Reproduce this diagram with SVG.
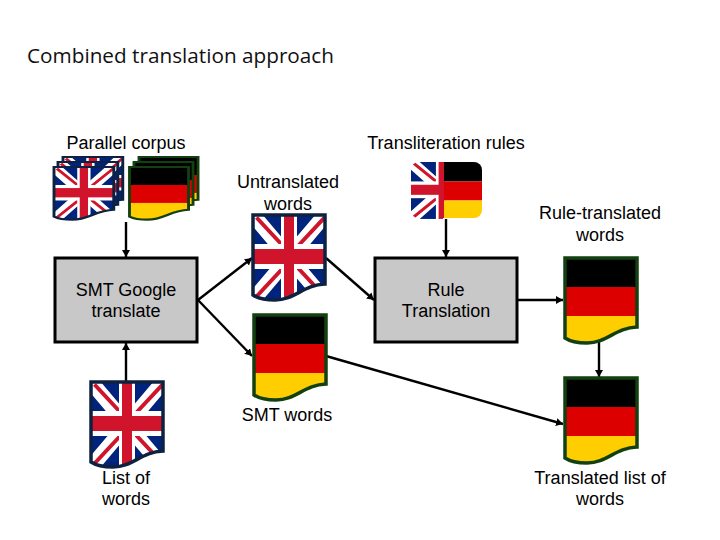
<svg xmlns="http://www.w3.org/2000/svg" xmlns:xlink="http://www.w3.org/1999/xlink" width="720" height="540" viewBox="0 0 720 540">
<style>
text{font-family:"Liberation Sans",Arial,sans-serif;font-size:18px;fill:#000;text-anchor:middle}
.title{font-family:"Open Sans",sans-serif;font-size:20px;text-anchor:start;fill:#111}
.box{fill:#c8c8c8;stroke:#000;stroke-width:3}
.conn{fill:none;stroke:#000;stroke-width:2.400;marker-end:url(#arrow)}
.ukline{fill:none;stroke:#0d2240;stroke-width:3.500}
.deline{fill:none;stroke:#12400f;stroke-width:3.500}
</style>
<defs>
<marker id="arrow" markerUnits="userSpaceOnUse" markerWidth="9" markerHeight="9" refX="7" refY="4" orient="auto">
<path d="M0 0L7 4L0 8Z" fill="#000"/>
</marker>
<path id="doc" d="M0 0H72V69C50 70 42 85 22 85C13 85 6 84 0 80Z"/>
<clipPath id="docclip"><use href="#doc"/></clipPath>
<g id="ukart">
<rect width="72" height="85" fill="#00247d"/>
<path d="M0 0L72 85M72 0L0 85" stroke="#fff" stroke-width="15"/>
<path d="M2 4L29 33M70 4L43 33M2 83L29 54M70 83L43 54" stroke="#cf142b" stroke-width="4" transform="translate(1.500 -1.500)"/>
<rect x="28" width="16" height="85" fill="#fff"/>
<rect y="29" width="72" height="25" fill="#fff"/>
<rect x="31" width="10" height="85" fill="#cf142b"/>
<rect y="34" width="72" height="15" fill="#cf142b"/>
</g>
<g id="deart">
<rect width="72" height="29" fill="#000"/>
<rect y="29" width="72" height="29" fill="#dd0000"/>
<rect y="58" width="72" height="27" fill="#ffce00"/>
</g>
<g id="ukdoc">
<use href="#ukart" clip-path="url(#docclip)"/>
<use href="#doc" class="ukline"/>
</g>
<g id="dedoc">
<use href="#deart" clip-path="url(#docclip)"/>
<use href="#doc" class="deline"/>
</g>
<clipPath id="hleft"><rect x="411" y="162" width="32" height="57"/></clipPath>
<clipPath id="hright"><path d="M444 162H474A8 8 0 0 1 482 170V210A8 8 0 0 1 474 218H444Z"/></clipPath>
</defs>
<text class="title" x="27" y="63" textLength="307" lengthAdjust="spacingAndGlyphs">Combined translation approach</text>
<g id="connectors">
<line class="conn" x1="126" y1="222" x2="126" y2="257"/>
<line class="conn" x1="446" y1="219" x2="446" y2="257"/>
<line class="conn" x1="126" y1="381" x2="126" y2="343"/>
<line class="conn" x1="198" y1="300" x2="252" y2="258"/>
<line class="conn" x1="198" y1="300" x2="252" y2="356"/>
<line class="conn" x1="326" y1="258" x2="374" y2="300"/>
<line class="conn" x1="518" y1="300" x2="563" y2="300"/>
<line class="conn" x1="599" y1="342" x2="599" y2="377"/>
<line class="conn" x1="326" y1="356" x2="563" y2="424"/>
</g>
<g id="parallel-corpus">
<text x="126" y="149">Parallel corpus</text>
<use href="#ukdoc" transform="translate(63 157) scale(.83 .62)"/>
<use href="#ukdoc" transform="translate(58 162) scale(.83 .62)"/>
<use href="#ukdoc" transform="translate(54 167) scale(.83 .62)"/>
<use href="#dedoc" transform="translate(139 157) scale(.82 .62)"/>
<use href="#dedoc" transform="translate(134 162) scale(.82 .62)"/>
<use href="#dedoc" transform="translate(129.500 167) scale(.82 .62)"/>
</g>
<g id="transliteration-rules">
<text x="446" y="149">Transliteration rules</text>
<g clip-path="url(#hleft)"><use href="#ukart" transform="translate(411 162) scale(.89 .67)"/></g>
<rect x="443" y="162" width="1.500" height="56" fill="#cf142b"/>
<g clip-path="url(#hright)"><rect x="444" y="162" width="38" height="19.500" fill="#000"/><rect x="444" y="181.500" width="38" height="19" fill="#dd0000"/><rect x="444" y="200.500" width="38" height="18" fill="#ffce00"/></g>
</g>
<g id="untranslated-words">
<text x="288" y="188">Untranslated</text>
<text x="288" y="210">words</text>
<use href="#ukdoc" transform="translate(253 215)"/>
</g>
<g id="smt-google">
<rect class="box" x="55" y="258" width="142" height="84"/>
<text x="126" y="296">SMT Google</text>
<text x="126" y="317">translate</text>
</g>
<g id="rule-translation">
<rect class="box" x="375" y="258" width="142" height="84"/>
<text x="446" y="296">Rule</text>
<text x="446" y="317">Translation</text>
</g>
<g id="smt-words">
<use href="#dedoc" transform="translate(254 315)"/>
<text x="287" y="421">SMT words</text>
</g>
<g id="rule-translated-words">
<text x="600" y="219">Rule-translated</text>
<text x="600" y="241">words</text>
<use href="#dedoc" transform="translate(565 258)"/>
</g>
<g id="translated-list">
<use href="#dedoc" transform="translate(565 378)"/>
<text x="600" y="484">Translated list of</text>
<text x="600" y="505">words</text>
</g>
<g id="list-of-words">
<use href="#ukdoc" transform="translate(91 382)"/>
<text x="126" y="484">List of</text>
<text x="126" y="505">words</text>
</g>
</svg>
